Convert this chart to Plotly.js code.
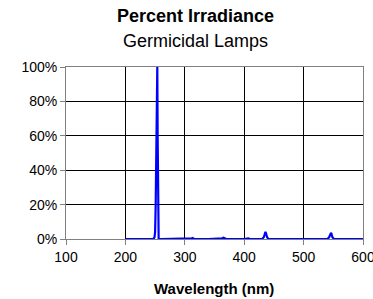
<!DOCTYPE html>
<html>
<head>
<meta charset="utf-8">
<script src="https://cdn.plot.ly/plotly-3.0.1.min.js"></script>
<style>html,body{margin:0;padding:0;background:#fff;}#chart{width:373px;height:299px;}</style>
</head>
<body>
<div id="chart"></div>
<script>
const wavelengths = [200, 240, 247, 249, 250, 251, 252, 253, 253.7, 254.3, 255, 256, 260, 300, 310, 312, 313, 314, 316, 340, 360, 363, 365, 367, 370, 400, 403, 405, 407, 410, 430, 433, 434.5, 435.8, 437, 438.5, 441, 500, 540, 543, 545, 546.1, 547, 548.5, 551, 600];
const irradiance = [0, 0, 0, 1, 4, 20, 62, 85, 100, 60, 0, 0, 0, 0, 0, 0.4, 0.6, 0.4, 0, 0, 0, 0.4, 0.8, 0.4, 0, 0, 0.3, 0.5, 0.3, 0, 0, 1, 3, 4.2, 3, 1, 0, 0, 0, 1, 3, 3.6, 3, 1, 0, 0];
const xTicks = [100, 200, 300, 400, 500, 600];
const yTicks = [0, 20, 40, 60, 80, 100];
const titleText = 'Percent Irradiance';
const subtitleText = 'Germicidal Lamps';
const xTitleText = 'Wavelength (nm)';

const fam = 'Liberation Sans, Arial, sans-serif';
const font = {family: fam, size: 14, color: '#000'};

Plotly.newPlot('chart', [{
  x: wavelengths, y: irradiance, type: 'scatter', mode: 'lines',
  line: {color: '#0000ff', width: 2.2}, hoverinfo: 'skip'
}], {
  width: 373, height: 299,
  margin: {l: 66, r: 10, t: 67, b: 60},
  paper_bgcolor: '#fff', plot_bgcolor: '#fff',
  font: font,
  showlegend: false,
  xaxis: {
    range: [100, 600], tickvals: xTicks, ticktext: xTicks.map(String),
    showgrid: true, gridcolor: '#000', gridwidth: 1,
    showline: true, linecolor: '#808080', linewidth: 1, mirror: true,
    ticks: 'outside', ticklen: 5, tickcolor: '#808080',
    zeroline: false, tickfont: font, ticklabeloverflow: 'allow'
  },
  yaxis: {
    range: [0, 100], tickvals: yTicks, ticktext: yTicks.map(v => v + '%'),
    showgrid: true, gridcolor: '#000', gridwidth: 1,
    showline: true, linecolor: '#808080', linewidth: 1, mirror: true,
    ticks: 'outside', ticklen: 5, tickcolor: '#808080',
    zeroline: false, tickfont: font
  },
  annotations: [
    {text: '<b>' + titleText + '</b>', xref: 'paper', yref: 'paper', x: 0.435, y: 1.297,
     xanchor: 'center', yanchor: 'middle', showarrow: false,
     font: {family: fam, size: 18, color: '#000'}},
    {text: subtitleText, xref: 'paper', yref: 'paper', x: 0.435, y: 1.154,
     xanchor: 'center', yanchor: 'middle', showarrow: false,
     font: {family: fam, size: 18, color: '#000'}},
    {text: '<b>' + xTitleText + '</b>', xref: 'paper', yref: 'paper', x: 0.497, y: -0.285,
     xanchor: 'center', yanchor: 'middle', showarrow: false,
     font: {family: fam, size: 15, color: '#000'}}
  ]
}, {staticPlot: true, displayModeBar: false});
</script>
</body>
</html>
